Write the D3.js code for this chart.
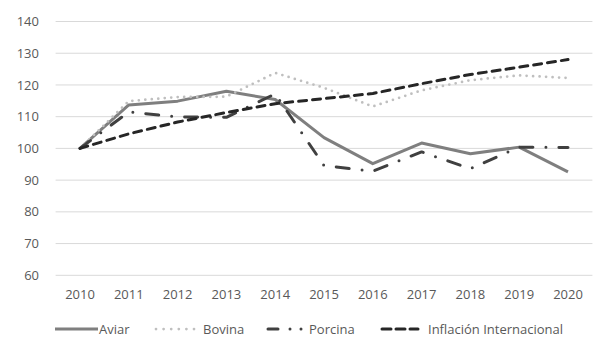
<!DOCTYPE html>
<html lang="es">
<head>
    <meta charset="UTF-8">
    <title>Índices de precios</title>
    <script src="https://d3js.org/d3.v7.min.js"></script>
    <style>
        body {
            margin: 0;
            background: #fff;
            font-family: "Open Sans", Arial, sans-serif;
        }
        svg {
            display: block;
        }
    </style>
</head>
<body>

    <div id="container"></div>

    <script>
        // data
        const years = ['2010', '2011', '2012', '2013', '2014', '2015', '2016', '2017', '2018', '2019', '2020'];
        const aviar = [100, 113.7, 114.9, 118, 115.4, 103.4, 95.2, 101.7, 98.3, 100.4, 92.6];
        const bovina = [100, 114.9, 116.2, 116.3, 123.8, 119.1, 113.2, 118.3, 121.5, 123, 122.2];
        const porcina = [100, 111.5, 109.9, 109.8, 117.2, 94.6, 92.8, 98.9, 93.6, 100.4, 100.3];
        const inflacion = [100, 104.6, 108.3, 111.3, 114.1, 115.7, 117.3, 120.4, 123.3, 125.6, 128];
        const yTicks = [60, 70, 80, 90, 100, 110, 120, 130, 140];

        const width = 615;
        const height = 362;

        const svg = d3.select('#container').append('svg')
            .attr('width', width)
            .attr('height', height);

        const x = d3.scaleBand()
            .domain(years)
            .range([55.6, 592.4]);

        const y = d3.scaleLinear()
            .domain([60, 140])
            .range([275.3, 21.5]);

        const cx = d => x(d) + x.bandwidth() / 2;

        // gridlines
        svg.append('g')
            .selectAll('line')
            .data(yTicks)
            .enter()
            .append('line')
            .attr('x1', x.range()[0])
            .attr('x2', x.range()[1])
            .attr('y1', d => y(d))
            .attr('y2', d => y(d))
            .attr('stroke', '#d9d9d9')
            .attr('stroke-width', 1);

        // y labels
        svg.append('g')
            .selectAll('text')
            .data(yTicks)
            .enter()
            .append('text')
            .attr('x', 39)
            .attr('y', d => y(d))
            .attr('dy', '0.35em')
            .attr('text-anchor', 'end')
            .attr('fill', '#595959')
            .attr('font-size', '13px')
            .text(d => d);

        // x labels
        svg.append('g')
            .selectAll('text')
            .data(years)
            .enter()
            .append('text')
            .attr('x', d => cx(d))
            .attr('y', 299)
            .attr('text-anchor', 'middle')
            .attr('fill', '#595959')
            .attr('font-size', '13px')
            .text(d => d);

        const series = [
            {name: 'Aviar', values: aviar, color: '#7f7f7f', width: 3, dash: null, cap: 'butt'},
            {name: 'Bovina', values: bovina, color: '#bfbfbf', width: 2.75, dash: '0,6.5', cap: 'round'},
            {name: 'Porcina', values: porcina, color: '#404040', width: 3, dash: '13,13,0,13', cap: 'round'},
            {name: 'Inflación Internacional', values: inflacion, color: '#262626', width: 3, dash: '8,6', cap: 'round'}
        ];

        const line = d3.line()
            .x((d, i) => cx(years[i]))
            .y(d => y(d));

        series.forEach(s => {
            svg.append('path')
                .datum(s.values)
                .attr('d', line)
                .attr('fill', 'none')
                .attr('stroke', s.color)
                .attr('stroke-width', s.width)
                .attr('stroke-linejoin', 'round')
                .attr('stroke-linecap', s.cap)
                .attr('stroke-dasharray', s.dash);
        });

        // legend
        const legendY = 329;
        const legendPos = [
            {x1: 55, x2: 98, tx: 99, dash: null},
            {x1: 156, x2: 194, tx: 203, dash: '0,7.6'},
            {x1: 268, x2: 306, tx: 309, dash: '10,12,0,11,0,20'},
            {x1: 382, x2: 418, tx: 428, dash: '9,5'}
        ];

        series.forEach((s, i) => {
            const p = legendPos[i];
            svg.append('line')
                .attr('x1', p.x1)
                .attr('x2', p.x2)
                .attr('y1', legendY)
                .attr('y2', legendY)
                .attr('stroke', s.color)
                .attr('stroke-width', s.width)
                .attr('stroke-linecap', s.cap)
                .attr('stroke-dasharray', p.dash);
            svg.append('text')
                .attr('x', p.tx)
                .attr('y', legendY)
                .attr('dy', '0.35em')
                .attr('fill', '#595959')
                .attr('font-size', '13px')
                .text(s.name);
        });
    </script>
</body>
</html>
